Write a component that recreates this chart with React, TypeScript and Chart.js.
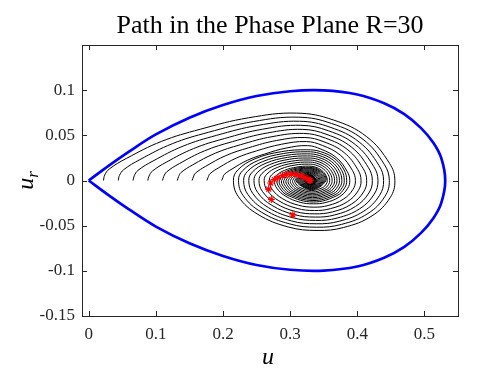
import React, { useEffect, useRef } from 'react';
import { Chart, registerables } from 'chart.js';

Chart.register(...registerables);

const TITLE = 'Path in the Phase Plane R=30';
const X_TITLE = 'u';
const Y_TITLE_MAIN = 'u';
const Y_TITLE_SUB = 'r';

const X_TICKS = [0, 0.1, 0.2, 0.3, 0.4, 0.5];
const X_LABELS = ['0', '0.1', '0.2', '0.3', '0.4', '0.5'];
const Y_TICKS = [-0.15, -0.1, -0.05, 0, 0.05, 0.1];
const Y_LABELS = ['-0.15', '-0.1', '-0.05', '0', '0.05', '0.1'];

// Separatrix (blue), upper half, from u = 0 to the right tip
const SEP_U = [0, 0.03, 0.06, 0.1, 0.15, 0.2, 0.25, 0.3, 0.35, 0.4, 0.44, 0.47, 0.495, 0.513, 0.525, 0.531];
const SEP_UR = [0, 0.0165, 0.032, 0.051, 0.0695, 0.0835, 0.0935, 0.0988, 0.0997, 0.0952, 0.0855, 0.0735, 0.058, 0.042, 0.025, 0];

// Black trajectories, [u, u_r]
const PATH_A = [[0.022,0],[0.0238,0.006],[0.0306,0.0127],[0.0566,0.0246],[0.1084,0.0433],[0.166,0.0567],[0.238,0.0694],[0.31,0.0746],[0.364,0.0671],[0.414,0.0485],[0.448,0.019],[0.456,0],
  [0.449,-0.0189],[0.422,-0.0391],[0.3797,-0.052],[0.34,-0.0553],[0.2974,-0.0515],[0.252,-0.0375],[0.223,-0.018],[0.2155,0],
  [0.222,0.0116],[0.2476,0.024],[0.2875,0.032],[0.325,0.034],[0.3452,0.032],[0.3667,0.024],[0.3804,0.0116],[0.3842,0],
  [0.3812,-0.0081],[0.3696,-0.0168],[0.3343,-0.0238],[0.2965,-0.0165],[0.284,-0.0079],[0.2808,0],
  [0.2946,0.0103],[0.328,0.0146],[0.3459,0.0103],[0.3533,0],
  [0.3319,-0.0102],[0.3088,0],[0.329,0.0063],[0.34,0],[0.33,-0.0044],[0.3209,0],[0.33,0.0027],[0.3343,0]];
const PATH_B = [[0.044,0],[0.0458,0.0056],[0.052,0.0119],[0.0762,0.0231],[0.1244,0.0407],[0.178,0.0533],[0.245,0.0652],[0.312,0.0701],[0.3618,0.0631],[0.4085,0.0456],[0.4402,0.0179],[0.4477,0],
  [0.4411,-0.0177],[0.4159,-0.0365],[0.3764,-0.0486],[0.3393,-0.0517],[0.2996,-0.0481],[0.2571,-0.035],[0.2301,-0.0168],[0.2231,0],
  [0.2291,0.0108],[0.253,0.0224],[0.2903,0.0299],[0.3253,0.0318],[0.3442,0.0299],[0.3643,0.0224],[0.3771,0.0108],[0.3806,0],
  [0.3778,-0.0076],[0.367,-0.0157],[0.334,-0.0222],[0.2987,-0.0154],[0.287,-0.0074],[0.284,0],
  [0.2969,0.0096],[0.3281,0.0136],[0.3449,0.0096],[0.3518,0],
  [0.3318,-0.0095],[0.3102,0],[0.329,0.0059],[0.3393,0],[0.33,-0.0041],[0.3215,0],[0.33,0.0025],[0.334,0]];
const PATH_C = [[0.066,0],[0.0678,0.0052],[0.0734,0.0112],[0.0958,0.0216],[0.1404,0.038],[0.19,0.0499],[0.252,0.061],[0.314,0.0656],[0.3595,0.059],[0.4028,0.0426],[0.4323,0.0167],[0.4392,0],
  [0.4332,-0.0164],[0.4098,-0.0339],[0.3731,-0.0451],[0.3387,-0.0479],[0.3017,-0.0447],[0.2624,-0.0325],[0.2372,-0.0156],[0.2307,0],
  [0.2364,0.0101],[0.2586,0.0208],[0.2932,0.0277],[0.3257,0.0295],[0.3432,0.0277],[0.3618,0.0208],[0.3737,0.0101],[0.377,0],
  [0.3744,-0.007],[0.3643,-0.0146],[0.3337,-0.0206],[0.301,-0.0143],[0.2901,-0.0068],[0.2873,0],
  [0.2993,0.0089],[0.3283,0.0127],[0.3438,0.0089],[0.3502,0],
  [0.3316,-0.0088],[0.3116,0],[0.3291,0.0055],[0.3387,0],[0.33,-0.0038],[0.3221,0],[0.33,0.0023],[0.3337,0]];
const PATH_D = [[0.088,0],[0.0898,0.0049],[0.0948,0.0104],[0.1154,0.0202],[0.1564,0.0354],[0.202,0.0464],[0.259,0.0568],[0.316,0.0611],[0.3572,0.055],[0.3972,0.0397],[0.4244,0.0156],[0.4308,0],
  [0.4252,-0.0151],[0.4036,-0.0313],[0.3698,-0.0416],[0.338,-0.0442],[0.3039,-0.0412],[0.2676,-0.03],[0.2444,-0.0144],[0.2384,0],
  [0.2436,0.0093],[0.2641,0.0192],[0.296,0.0256],[0.326,0.0272],[0.3422,0.0256],[0.3594,0.0192],[0.3703,0.0093],[0.3734,0],
  [0.371,-0.0065],[0.3617,-0.0134],[0.3334,-0.019],[0.3032,-0.0132],[0.2932,-0.0063],[0.2906,0],
  [0.3017,0.0082],[0.3284,0.0117],[0.3427,0.0082],[0.3486,0],
  [0.3315,-0.0082],[0.313,0],[0.3292,0.005],[0.338,0],[0.33,-0.0035],[0.3227,0],[0.33,0.0022],[0.3334,0]];
const PATH_E = [[0.11,0],[0.1118,0.0045],[0.1162,0.0096],[0.135,0.0187],[0.1724,0.0328],[0.214,0.043],[0.266,0.0526],[0.318,0.0566],[0.3549,0.0509],[0.3916,0.0368],[0.4165,0.0144],[0.4224,0],
  [0.4172,-0.0139],[0.3974,-0.0287],[0.3664,-0.0381],[0.3373,-0.0405],[0.3061,-0.0377],[0.2728,-0.0275],[0.2516,-0.0132],[0.2461,0],
  [0.2508,0.0085],[0.2696,0.0176],[0.2988,0.0235],[0.3263,0.0249],[0.3411,0.0235],[0.3569,0.0176],[0.3669,0.0085],[0.3697,0],
  [0.3675,-0.0059],[0.359,-0.0123],[0.3332,-0.0174],[0.3054,-0.0121],[0.2963,-0.0058],[0.2939,0],
  [0.3041,0.0075],[0.3285,0.0107],[0.3417,0.0075],[0.3471,0],
  [0.3314,-0.0075],[0.3145,0],[0.3293,0.0046],[0.3373,0],[0.33,-0.0032],[0.3233,0],[0.33,0.002],[0.3332,0]];
const PATH_F = [[0.132,0],[0.1338,0.0042],[0.1376,0.0089],[0.1546,0.0172],[0.1884,0.0302],[0.226,0.0396],[0.273,0.0485],[0.32,0.0521],[0.3527,0.0469],[0.386,0.0339],[0.4087,0.0133],[0.414,0],
  [0.4094,-0.0126],[0.3914,-0.0261],[0.3632,-0.0347],[0.3367,-0.0369],[0.3083,-0.0344],[0.278,-0.025],[0.2586,-0.012],[0.2536,0],
  [0.258,0.0077],[0.275,0.016],[0.3017,0.0213],[0.3267,0.0227],[0.3401,0.0213],[0.3545,0.016],[0.3636,0.0077],[0.3662,0],
  [0.3642,-0.0054],[0.3564,-0.0112],[0.3329,-0.0159],[0.3077,-0.011],[0.2993,-0.0053],[0.2972,0],
  [0.3064,0.0069],[0.3287,0.0097],[0.3406,0.0069],[0.3455,0],
  [0.3313,-0.0068],[0.3159,0],[0.3293,0.0042],[0.3367,0],[0.33,-0.0029],[0.3239,0],[0.33,0.0018],[0.3329,0]];
const PATH_G = [[0.154,0],[0.1558,0.0038],[0.159,0.0081],[0.1742,0.0157],[0.2044,0.0276],[0.238,0.0362],[0.28,0.0443],[0.322,0.0476],[0.3504,0.0428],[0.3804,0.0309],[0.4008,0.0121],[0.4056,0],
  [0.4014,-0.0113],[0.3852,-0.0235],[0.3598,-0.0312],[0.336,-0.0332],[0.3104,-0.0309],[0.2832,-0.0225],[0.2658,-0.0108],[0.2613,0],
  [0.2652,0.007],[0.2806,0.0144],[0.3045,0.0192],[0.327,0.0204],[0.3391,0.0192],[0.352,0.0144],[0.3602,0.007],[0.3625,0],
  [0.3607,-0.0049],[0.3538,-0.0101],[0.3326,-0.0143],[0.3099,-0.0099],[0.3024,-0.0047],[0.3005,0],
  [0.3088,0.0062],[0.3288,0.0088],[0.3395,0.0062],[0.344,0],
  [0.3311,-0.0061],[0.3173,0],[0.3294,0.0038],[0.336,0],[0.33,-0.0026],[0.3245,0],[0.33,0.0016],[0.3326,0]];
const PATH_H = [[0.176,0],[0.1778,0.0034],[0.1804,0.0073],[0.1938,0.0142],[0.2204,0.025],[0.25,0.0328],[0.287,0.0401],[0.324,0.0431],[0.3481,0.0388],[0.3748,0.028],[0.3929,0.011],[0.3972,0],
  [0.3934,-0.0101],[0.379,-0.0208],[0.3565,-0.0277],[0.3353,-0.0295],[0.3126,-0.0274],[0.2884,-0.02],[0.273,-0.0096],[0.269,0],
  [0.2724,0.0062],[0.2861,0.0128],[0.3073,0.0171],[0.3273,0.0181],[0.3381,0.0171],[0.3496,0.0128],[0.3569,0.0062],[0.3589,0],
  [0.3573,-0.0043],[0.3511,-0.009],[0.3323,-0.0127],[0.3121,-0.0088],[0.3055,-0.0042],[0.3038,0],
  [0.3111,0.0055],[0.3289,0.0078],[0.3385,0.0055],[0.3424,0],
  [0.331,-0.0054],[0.3187,0],[0.3295,0.0034],[0.3353,0],[0.33,-0.0023],[0.3251,0],[0.33,0.0014],[0.3323,0]];
const PATH_I = [[0.198,0],[0.1998,0.0031],[0.2018,0.0066],[0.2134,0.0127],[0.2364,0.0224],[0.262,0.0293],[0.294,0.0359],[0.326,0.0386],[0.3459,0.0347],[0.3692,0.0251],[0.3851,0.0098],[0.3888,0],
  [0.3856,-0.0088],[0.373,-0.0183],[0.3532,-0.0243],[0.3347,-0.0258],[0.3148,-0.0241],[0.2936,-0.0175],[0.28,-0.0084],[0.2765,0],
  [0.2796,0.0054],[0.2915,0.0112],[0.3102,0.0149],[0.3277,0.0159],[0.3371,0.0149],[0.3471,0.0112],[0.3535,0.0054],[0.3553,0],
  [0.3539,-0.0038],[0.3485,-0.0078],[0.332,-0.0111],[0.3144,-0.0077],[0.3085,-0.0037],[0.307,0],
  [0.3135,0.0048],[0.3291,0.0068],[0.3374,0.0048],[0.3409,0],
  [0.3309,-0.0048],[0.3201,0],[0.3295,0.0029],[0.3347,0],[0.33,-0.0021],[0.3258,0],[0.33,0.0013],[0.332,0]];
const PATHS = [PATH_A, PATH_B, PATH_C, PATH_D, PATH_E, PATH_F, PATH_G, PATH_H, PATH_I];

// Red end points
const END_U = [0.304, 0.272, 0.268, 0.271, 0.2765, 0.282, 0.2885, 0.295, 0.302, 0.309, 0.316, 0.322, 0.3265, 0.329, 0.33];
const END_UR = [-0.038, -0.021, -0.0095, -0.0028, 0.001, 0.0035, 0.0055, 0.0066, 0.0071, 0.0066, 0.0052, 0.0032, 0.0014, 0.0002, 0];

const SERIF = '"Liberation Serif", "Times New Roman", serif';
const AXIS_COLOR = '#262626';

const framePlugin = {
  id: 'frameAndTitles',
  afterDatasetsDraw(chart: any) {
    const { ctx, chartArea: a, scales } = chart;
    const x = scales.x;
    const y = scales.y;
    ctx.save();
    ctx.strokeStyle = AXIS_COLOR;
    ctx.lineWidth = 1;
    ctx.strokeRect(Math.round(a.left) + 0.5, Math.round(a.top) + 0.5, Math.round(a.right - a.left), Math.round(a.bottom - a.top));
    const L = 5;
    ctx.beginPath();
    for (const v of X_TICKS) {
      const px = Math.round(x.getPixelForValue(v)) + 0.5;
      ctx.moveTo(px, a.bottom);
      ctx.lineTo(px, a.bottom - L);
      ctx.moveTo(px, a.top);
      ctx.lineTo(px, a.top + L);
    }
    for (const v of Y_TICKS) {
      const py = Math.round(y.getPixelForValue(v)) + 0.5;
      ctx.moveTo(a.left, py);
      ctx.lineTo(a.left + L, py);
      ctx.moveTo(a.right, py);
      ctx.lineTo(a.right - L, py);
    }
    ctx.stroke();
    ctx.restore();
  },
  afterDraw(chart: any) {
    const { ctx, chartArea: a } = chart;
    const cx = (a.left + a.right) / 2;
    ctx.save();
    ctx.fillStyle = '#000';
    ctx.textBaseline = 'alphabetic';
    ctx.textAlign = 'center';
    ctx.font = `26px ${SERIF}`;
    ctx.fillText(TITLE, cx, 33);
    ctx.font = `italic 24px ${SERIF}`;
    ctx.fillText(X_TITLE, cx - 2, 364);
    ctx.font = `italic 24px ${SERIF}`;
    const wu = ctx.measureText(Y_TITLE_MAIN).width;
    ctx.font = `italic 17px ${SERIF}`;
    const wr = ctx.measureText(Y_TITLE_SUB).width;
    const total = wu + wr;
    const cy = (a.top + a.bottom) / 2;
    ctx.translate(33, cy + total / 2);
    ctx.rotate(-Math.PI / 2);
    ctx.textAlign = 'left';
    ctx.font = `italic 24px ${SERIF}`;
    ctx.fillText(Y_TITLE_MAIN, 0, 0);
    ctx.font = `italic 17px ${SERIF}`;
    ctx.fillText(Y_TITLE_SUB, wu, 5);
    ctx.restore();
  },
};

export default function App() {
  const canvasRef = useRef<HTMLCanvasElement | null>(null);

  useEffect(() => {
    if (!canvasRef.current) return;
    const sepUpper = SEP_U.map((u, i) => ({ x: u, y: SEP_UR[i] }));
    const sepLower = SEP_U.map((u, i) => ({ x: u, y: -SEP_UR[i] })).reverse();
    const separatrix = sepUpper.concat(sepLower.slice(1));

    const datasets: any[] = [
      {
        label: 'ends',
        data: END_U.map((u, i) => ({ x: u, y: END_UR[i] })),
        showLine: false,
        pointStyle: 'star',
        pointRadius: 3.5,
        pointBorderColor: '#ff0000',
        pointBackgroundColor: '#ff0000',
        pointBorderWidth: 1.1,
        borderColor: '#ff0000',
        order: 0,
      },
      {
        label: 'separatrix',
        data: separatrix,
        showLine: true,
        borderColor: '#0000ff',
        borderWidth: 2.7,
        pointRadius: 0,
        tension: 0.35,
        fill: false,
        order: 1,
      },
      ...PATHS.map((p, i) => ({
        label: 'path' + i,
        data: p.map(([u, ur]) => ({ x: u, y: ur })),
        showLine: true,
        borderColor: '#000000',
        borderWidth: 1,
        pointRadius: 0,
        tension: 0.4,
        fill: false,
        order: 2,
      })),
    ];

    const chart = new Chart(canvasRef.current, {
      type: 'scatter',
      data: { datasets },
      plugins: [framePlugin],
      options: {
        animation: false,
        responsive: false,
        maintainAspectRatio: false,
        layout: { padding: { top: 45, right: 19, left: 0, bottom: 0 } },
        plugins: {
          legend: { display: false },
          tooltip: { enabled: false },
          title: { display: false },
        },
        scales: {
          x: {
            type: 'linear',
            min: -0.01,
            max: 0.55,
            grid: { display: false, drawTicks: false },
            border: { display: false },
            afterBuildTicks: (scale: any) => {
              scale.ticks = X_TICKS.map((v) => ({ value: v }));
            },
            afterFit: (scale: any) => {
              scale.height = 62;
            },
            ticks: {
              autoSkip: false,
              maxRotation: 0,
              padding: 8,
              color: AXIS_COLOR,
              font: { family: SERIF, size: 17 },
              callback: (v: any) => {
                const i = X_TICKS.findIndex((t) => Math.abs(t - Number(v)) < 1e-9);
                return i >= 0 ? X_LABELS[i] : '';
              },
            },
          },
          y: {
            type: 'linear',
            min: -0.15,
            max: 0.15,
            grid: { display: false, drawTicks: false },
            border: { display: false },
            afterBuildTicks: (scale: any) => {
              scale.ticks = Y_TICKS.map((v) => ({ value: v }));
            },
            afterFit: (scale: any) => {
              scale.width = 82;
            },
            ticks: {
              autoSkip: false,
              padding: 7,
              color: AXIS_COLOR,
              font: { family: SERIF, size: 17 },
              callback: (v: any) => {
                const i = Y_TICKS.findIndex((t) => Math.abs(t - Number(v)) < 1e-9);
                return i >= 0 ? Y_LABELS[i] : '';
              },
            },
          },
        },
      } as any,
    });
    return () => chart.destroy();
  }, []);

  return (
    <div style={{ position: 'absolute', left: 0, top: 0, width: 477, height: 378, background: '#fff' }}>
      <canvas ref={canvasRef} width={477} height={378} style={{ width: 477, height: 378, display: 'block' }} />
    </div>
  );
}
